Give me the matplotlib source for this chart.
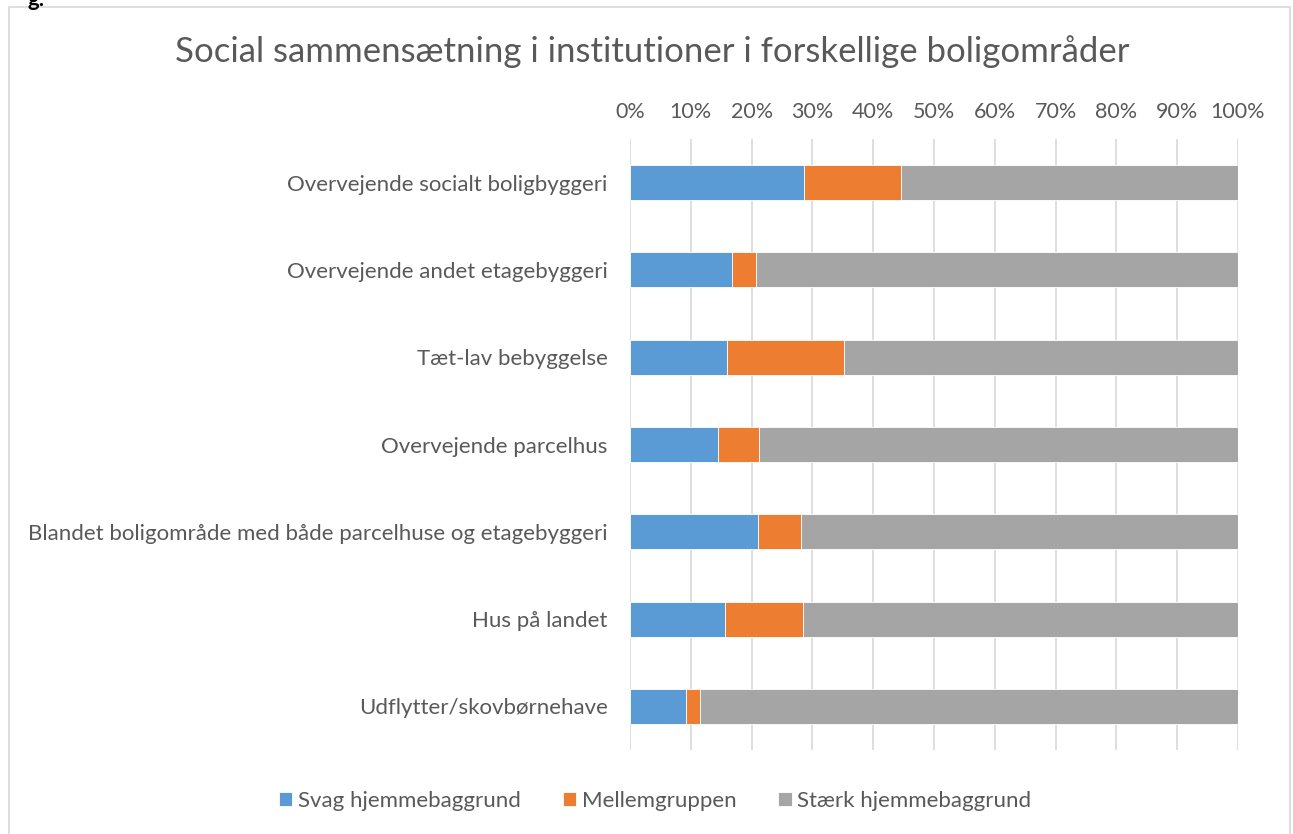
import matplotlib
matplotlib.use("Agg")
import matplotlib.pyplot as plt
from matplotlib.patches import Rectangle

categories = [
    "Overvejende socialt boligbyggeri",
    "Overvejende andet etagebyggeri",
    "Tæt-lav bebyggelse",
    "Overvejende parcelhus",
    "Blandet boligområde med både parcelhuse og etagebyggeri",
    "Hus på landet",
    "Udflytter/skovbørnehave",
]
series_names = ["Svag hjemmebaggrund", "Mellemgruppen", "Stærk hjemmebaggrund"]
svag = [28.6, 16.8, 16.0, 14.4, 21.1, 15.7, 9.2]
mellem = [15.9, 4.0, 19.2, 6.8, 7.1, 12.8, 2.3]
staerk = [100 - a - b for a, b in zip(svag, mellem)]
xticks = list(range(0, 101, 10))
xticklabels = [f"{t}%" for t in xticks]
colors = ["#5B9BD5", "#ED7D31", "#A5A5A5"]

plt.rcParams['font.family'] = ['Lato', 'DejaVu Sans']
W, H = 1293, 834
fig = plt.figure(figsize=(W / 100, H / 100), dpi=100)
ax = fig.add_axes([630 / W, 1 - 750 / H, (1238 - 630) / W, (750 - 139) / H])

y = list(range(len(categories)))
left = [0] * len(categories)
for vals, name, c in zip([svag, mellem, staerk], series_names, colors):
    ax.barh(y, vals, left=left, height=0.40, color=c, edgecolor='white',
            linewidth=0.6, label=name, zorder=3)
    left = [l + v for l, v in zip(left, vals)]

ax.set_xlim(0, 100)
ax.set_ylim(6.5, -0.5)
ax.set_yticks(y)
ax.set_yticklabels(categories, fontsize=16, color='#595959')
ax.set_xticks(xticks)
ax.set_xticklabels(xticklabels, fontsize=15.5, color='#595959')
ax.xaxis.tick_top()
ax.tick_params(axis='both', length=0)
ax.tick_params(axis='x', pad=12)
ax.tick_params(axis='y', pad=16)
ax.grid(axis='x', color='#D9D9D9', linewidth=1.2, zorder=0)
for s in ax.spines.values():
    s.set_visible(False)

fig.text(652 / W, 1 - 52 / H, "Social sammensætning i institutioner i forskellige boligområder",
         ha='center', va='center', fontsize=25, color='#595959')

leg = fig.legend(loc='center', bbox_to_anchor=(655 / W, 1 - 801 / H), ncol=3,
                 frameon=False, fontsize=16, handlelength=0.6, handleheight=0.6,
                 handletextpad=0.25, columnspacing=1.9)
for t in leg.get_texts():
    t.set_color('#595959')

# outer chart frame
fig.patches.append(Rectangle((9 / W, -0.01), (1290 - 9) / W, 1 - 7 / H + 0.01,
                             transform=fig.transFigure, fill=False,
                             edgecolor='#D9D9D9', linewidth=1.2))
fig.text(28 / W, 1 - 0 / H, "g.", ha='left', va='center', fontsize=16,
         fontweight='bold', color='black')

fig.savefig("out.png", dpi=100)
